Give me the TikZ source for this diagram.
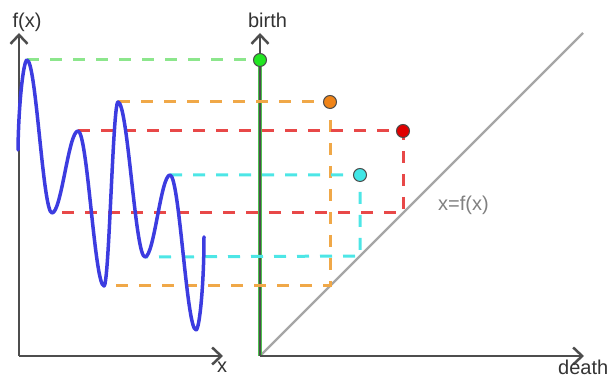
\documentclass[tikz,border=0pt]{standalone}
\usepackage{fontspec}
\setmainfont{Liberation Sans}
\usetikzlibrary{arrows.meta}
\definecolor{axisgray}{HTML}{4D4D4D}
\definecolor{labelgray}{HTML}{333333}
\definecolor{diaggray}{HTML}{A6A6A6}
\definecolor{eqgray}{HTML}{808080}
\definecolor{curveblue}{HTML}{3C3CE0}
\definecolor{greenline}{HTML}{8CE68C}
\definecolor{greendot}{HTML}{22E622}
\definecolor{greensolid}{HTML}{4CC24C}
\definecolor{orangeline}{HTML}{F0A848}
\definecolor{orangedot}{HTML}{F08418}
\definecolor{redline}{HTML}{E84848}
\definecolor{reddot}{HTML}{E00000}
\definecolor{cyanline}{HTML}{4DE6E6}
\definecolor{cyandot}{HTML}{40E6E6}
\begin{document}
\begin{tikzpicture}[x=1pt,y=1pt,
  axis/.style={draw=axisgray, line width=2.5pt, -{Straight Barb[length=9pt,width=17pt,line width=2.5pt]}},
  guide/.style={line width=3pt, dash pattern=on 12pt off 11pt},
  dot/.style={circle, draw=black!70, line width=1pt, minimum size=13pt, inner sep=0pt},
  lbl/.style={font=\fontsize{20}{24}\selectfont, text=labelgray, inner sep=0pt}]
\useasboundingbox (0,0) rectangle (611,379);
% axes points
\coordinate (O1) at (19,23);
\coordinate (Y1) at (19,346);
\coordinate (X1) at (223,23);
\coordinate (O2) at (260,23);
\coordinate (Y2) at (260,346);
\coordinate (X2) at (584,23);
\coordinate (D) at (583,346);
% extrema of the curve
\coordinate (s0) at (18,229);
\coordinate (pg) at (27,319);
\coordinate (mr) at (52,166);
\coordinate (pr) at (78,248);
\coordinate (mo) at (104,93);
\coordinate (po) at (118,277);
\coordinate (mc) at (145,122);
\coordinate (pc) at (170,204);
\coordinate (mm) at (196,49);
\coordinate (e0) at (204,142);
% diagram points
\coordinate (cg) at (260,319);
\coordinate (co) at (330,277);
\coordinate (cr) at (403,248);
\coordinate (cc) at (360,204);
\coordinate (dO) at (330,93);
\coordinate (dR) at (403,166);
\coordinate (dC) at (360,123);
\coordinate (gtop) at (260,319);
\coordinate (gbot) at (260,23);
% diagonal
\draw[draw=diaggray, line width=2.2pt] (O2) -- (D);
% green solid line along birth axis
\draw[draw=greensolid, line width=4.5pt] (gtop) -- (gbot);
% axes
\draw[axis] (O1) -- (Y1);
\draw[axis] (O1) -- (X1);
\draw[axis] (O2) -- (Y2);
\draw[axis] (O2) -- (X2);
% guides
\draw[guide, draw=greenline] (pg) -- (cg);
\draw[guide, draw=orangeline] (po) -- (co) -- (dO) -- (mo);
\draw[guide, draw=redline] (pr) -- (cr) -- (dR) -- (mr);
\draw[guide, draw=cyanline] (pc) -- (cc) -- (dC) -- (mc);
% curve
\draw[draw=curveblue, line width=3.5pt, line join=round, line cap=round]
  (s0) .. controls (18.5,275) and (23.5,319) .. (pg)
  .. controls (36.1,319) and (42.9,166) .. (mr)
  .. controls (61.4,166) and (68.6,248) .. (pr)
  .. controls (87.4,248) and (94.6,93) .. (mo)
  .. controls (109.1,93) and (112.9,277) .. (po)
  .. controls (127.8,277) and (135.2,122) .. (mc)
  .. controls (154.1,122) and (160.9,204) .. (pc)
  .. controls (179.4,204) and (186.6,49) .. (mm)
  .. controls (199.5,49) and (204,95) .. (e0);
% dots
\node[dot, fill=greendot] (g) at (cg) {};
\node[dot, fill=orangedot] (o) at (co) {};
\node[dot, fill=reddot] (r) at (cr) {};
\node[dot, fill=cyandot] (c) at (cc) {};
% labels
\node[lbl] (fx) at (27,356.5) {f(x)};
\node[lbl] (birth) at (267.5,359) {birth};
\node[lbl, anchor=base] (xl) at (222,6) {x};
\node[lbl, anchor=base west] (death) at (558,4) {death};
\node[lbl, text=eqgray] (eq) at (463.5,174) {x=f(x)};
\end{tikzpicture}
\end{document}
